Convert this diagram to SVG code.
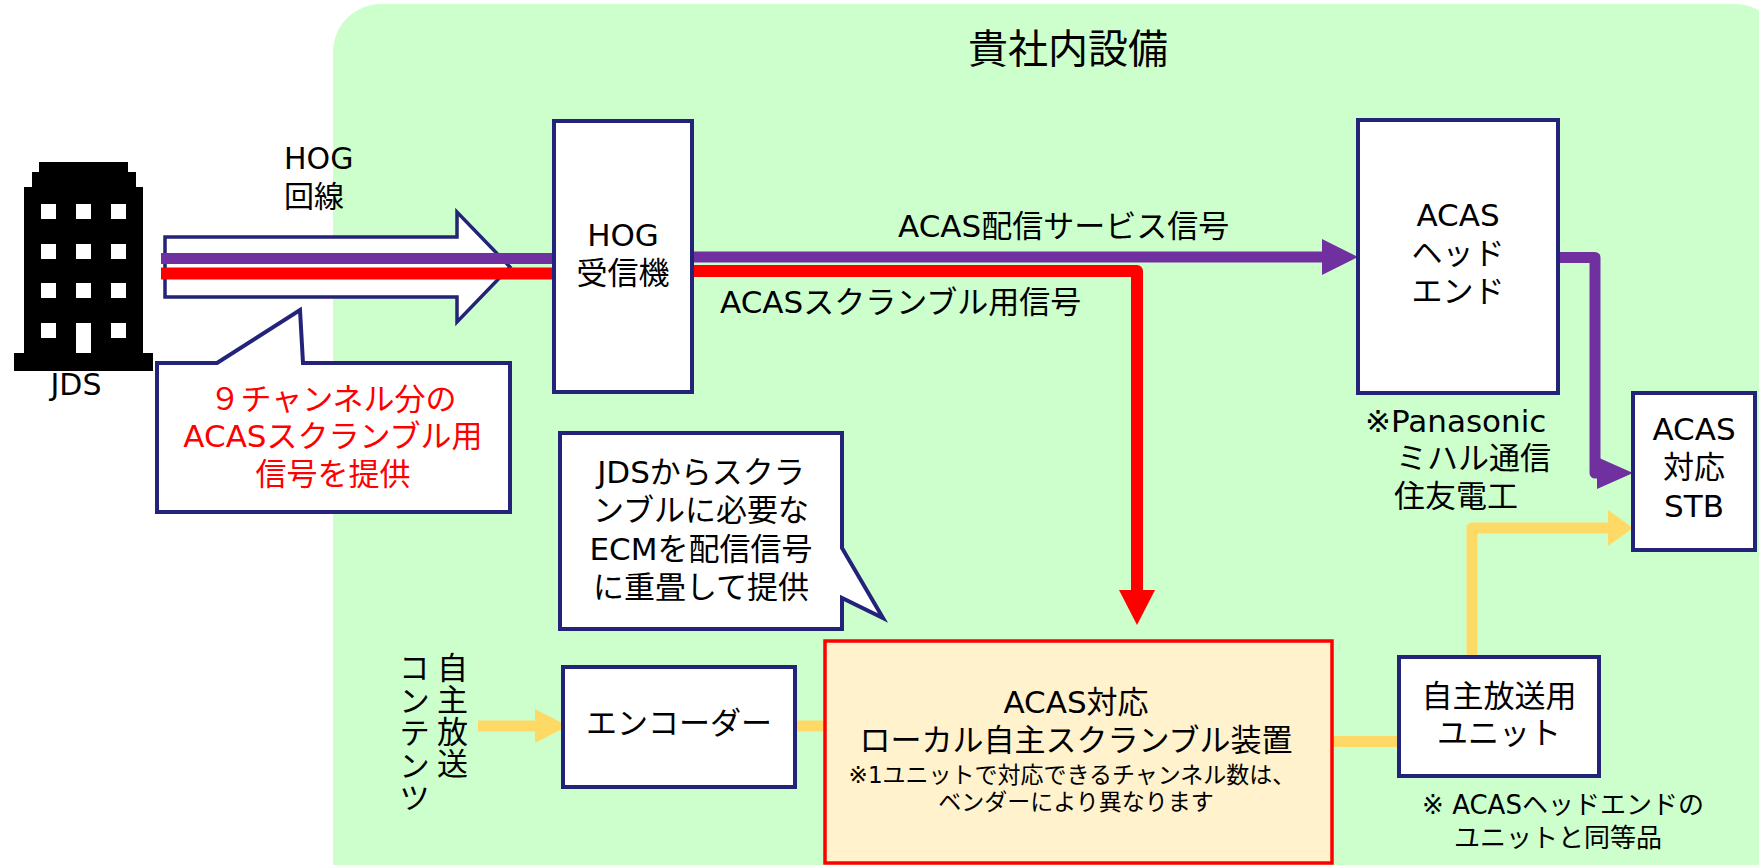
<svg xmlns="http://www.w3.org/2000/svg" width="1759" height="865" viewBox="0 0 1759 865">
<style>
text{font-family:"DejaVu Sans","Noto Sans CJK JP",sans-serif;fill:#000;}
.m{font-size:31px;}
.c{text-anchor:middle;}
.v{writing-mode:vertical-rl;text-anchor:start;}
.box{fill:#fff;stroke:#23237A;stroke-width:4;}
.call{fill:#fff;stroke:#23237A;stroke-width:4;stroke-linejoin:miter;}
.pl{fill:none;stroke:#7030A0;stroke-width:11;stroke-linejoin:round;}
.rl{fill:none;stroke:#FF0000;stroke-width:12;stroke-linejoin:round;}
.yl{fill:none;stroke:#FFD966;stroke-width:11;stroke-linejoin:round;}
</style>
<rect x="0" y="0" width="1759" height="865" fill="#fff"/>
<g id="area">
<rect x="333" y="4" width="1450" height="920" rx="48" ry="48" fill="#CCFFCC"/>
<text x="1068" y="63" class="c" font-size="40">貴社内設備</text>
</g>
<g id="jds">
<path d="M39,162H128V172H136V187H143V353H153V371H14V353H24V187H32V172H39Z" fill="#000"/>
<g fill="#fff">
<rect x="41" y="204" width="15" height="15"/><rect x="76" y="204" width="15" height="15"/><rect x="111" y="204" width="15" height="15"/>
<rect x="41" y="244" width="15" height="15"/><rect x="76" y="244" width="15" height="15"/><rect x="111" y="244" width="15" height="15"/>
<rect x="41" y="283" width="15" height="15"/><rect x="76" y="283" width="15" height="15"/><rect x="111" y="283" width="15" height="15"/>
<rect x="41" y="323" width="15" height="15"/><rect x="76" y="323" width="15" height="30"/><rect x="111" y="323" width="15" height="15"/>
</g>
<text x="76" y="395" class="c" font-size="30">JDS</text>
</g>
<g id="hog-line">
<polygon points="165,237 457,237 457,212 510,267 457,322 457,297 165,297" fill="#fff" stroke="#23237A" stroke-width="3.5"/>
<text x="284" y="169" font-size="30">HOG</text>
<text x="284" y="207" font-size="30">回線</text>
</g>
<g id="connectors">
<path class="pl" d="M161,258.5H554"/>
<path class="rl" d="M161,273.5H554"/>
<path class="pl" d="M692,257H1324"/>
<polygon points="1322,239 1358,257 1322,275" fill="#7030A0"/>
<path class="rl" d="M692,271H1137V592"/>
<polygon points="1119,590 1155,590 1137,625" fill="#FF0000"/>
<path class="pl" d="M1558,257.5H1595V473H1599"/>
<polygon points="1597,457 1633,473 1597,489" fill="#7030A0"/>
<path class="yl" d="M478,726H537"/>
<polygon points="535,709 568,726 535,743" fill="#FFD966"/>
<path class="yl" d="M795,726H825"/>
<path class="yl" d="M1332,741.5H1399"/>
<path class="yl" d="M1472,657V528H1612"/>
<polygon points="1608,510 1633,528 1608,546" fill="#FFD966"/>
</g>
<g id="hog-receiver">
<rect class="box" x="554" y="121" width="138" height="271"/>
<text class="m c" x="623" y="246">HOG</text>
<text class="m c" x="623" y="284">受信機</text>
</g>
<g id="labels">
<text class="m" x="898" y="237">ACAS配信サービス信号</text>
<text class="m" x="720" y="313">ACASスクランブル用信号</text>
</g>
<g id="acas-headend">
<rect class="box" x="1358" y="120" width="200" height="273"/>
<text class="m c" x="1458" y="226">ACAS</text>
<text class="m c" x="1458" y="264">ヘッド</text>
<text class="m c" x="1458" y="302">エンド</text>
<text class="m" x="1365" y="432">※Panasonic</text>
<text class="m" x="1396" y="469">ミハル通信</text>
<text class="m" x="1394" y="507">住友電工</text>
</g>
<g id="stb">
<rect class="box" x="1633" y="393" width="122" height="157"/>
<text class="m c" x="1694" y="440">ACAS</text>
<text class="m c" x="1694" y="478">対応</text>
<text class="m c" x="1694" y="517">STB</text>
</g>
<g id="callout-jds">
<polygon class="call" points="157,363 217,363 300,310 303,363 510,363 510,512 157,512"/>
<text class="m c" x="333" y="410" style="fill:#FF0000">９チャンネル分の</text>
<text class="m c" x="333" y="447" style="fill:#FF0000">ACASスクランブル用</text>
<text class="m c" x="333" y="485" style="fill:#FF0000">信号を提供</text>
</g>
<g id="callout-ecm">
<polygon class="call" points="560,433 842,433 842,548 883,618 842,598 842,629 560,629"/>
<text class="m c" x="701" y="483">JDSからスクラ</text>
<text class="m c" x="701" y="521">ンブルに必要な</text>
<text class="m c" x="701" y="560">ECMを配信信号</text>
<text class="m c" x="701" y="598">に重畳して提供</text>
</g>
<g id="contents">
<text class="m v" x="450" y="652" letter-spacing="1">自主放送</text>
<text class="m v" x="412" y="652" letter-spacing="1.5">コンテンツ</text>
</g>
<g id="encoder">
<rect class="box" x="563" y="667" width="232" height="120"/>
<text class="m c" x="679" y="734">エンコーダー</text>
</g>
<g id="scrambler">
<rect x="825" y="641" width="507" height="222" fill="#FFF2CC" stroke="#FF0000" stroke-width="3.5"/>
<text class="m c" x="1076" y="713">ACAS対応</text>
<text class="m c" x="1076" y="751">ローカル自主スクランブル装置</text>
<text class="c" x="1072" y="783" font-size="23">※1ユニットで対応できるチャンネル数は、</text>
<text class="c" x="1076" y="810" font-size="23">ベンダーにより異なります</text>
</g>
<g id="unit">
<rect class="box" x="1399" y="657" width="200" height="119"/>
<text class="m c" x="1499" y="707">自主放送用</text>
<text class="m c" x="1499" y="744">ユニット</text>
<text class="c" x="1563" y="814" font-size="26">※ ACASヘッドエンドの</text>
<text class="c" x="1558" y="847" font-size="26">ユニットと同等品</text>
</g>
</svg>
